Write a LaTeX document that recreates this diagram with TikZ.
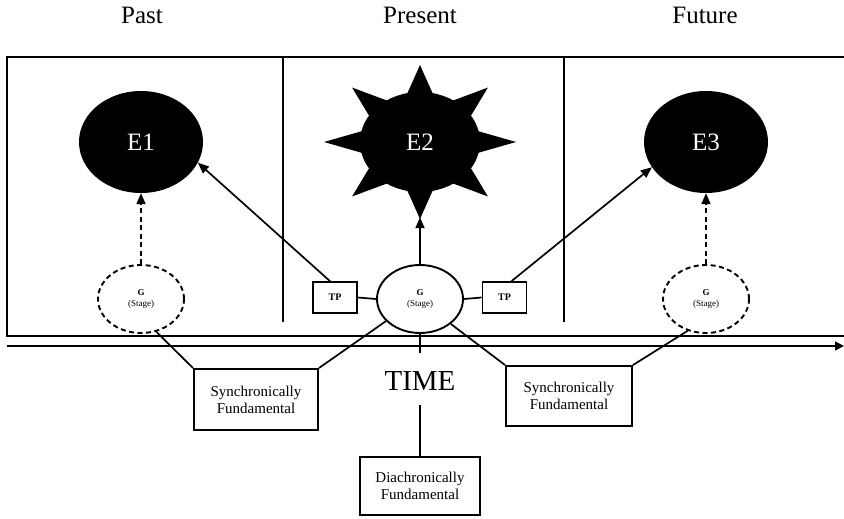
\documentclass[tikz,border=0pt]{standalone}
\usepackage{fontspec}
\setmainfont{Liberation Serif}
\usetikzlibrary{arrows.meta,shapes.geometric}
\begin{document}
\begin{tikzpicture}[x=1pt,y=-1pt,
  ln/.style={line width=1.7pt},
  frame/.style={line width=2pt},
  tip/.style={-{Triangle[length=11pt,width=9pt]}},
  dsh/.style={dash pattern=on 5pt off 3.5pt},
  event/.style={ellipse, fill=black, text=white, minimum width=124pt, minimum height=102pt, inner sep=0pt, font=\fontsize{25}{30}\selectfont},
  gstage/.style={ellipse, draw, line width=1.9pt, minimum width=86pt, minimum height=68pt, inner sep=0pt, align=center, font=\fontsize{9}{11}\selectfont},
  tpbox/.style={draw, line width=1.7pt, minimum width=44pt, minimum height=31pt, inner sep=0pt, font=\fontsize{10}{12}\selectfont\bfseries},
  fbox/.style={draw, line width=1.9pt, align=center, inner sep=0pt, font=\fontsize{15}{17}\selectfont},
  head/.style={anchor=base, inner sep=0pt, font=\fontsize{25}{30}\selectfont}]
\useasboundingbox (0,0) rectangle (844,519);
\fill[white] (0,0) rectangle (844,519);

% headers
\node[head] (past) at (142,24) {Past};
\node[head] (present) at (420,24) {Present};
\node[head] (future) at (705,24) {Future};

% frame and dividers
\draw[frame] (844,57) -- (7,57) -- (7,336) -- (844,336);
\draw[ln] (283,56) -- (283,322);
\draw[ln] (564,56) -- (564,322);

% time axis
\coordinate (t0) at (7,346);
\coordinate (t1) at (844,346);
\draw[ln,-{Triangle[length=9pt,width=9pt]}] (t0) -- (t1);

% events
\node[event] (E1) at (141,142) {E1};
\node[event] (E3) at (706,142) {E3};
\fill[shift={(420,142)}] (0,0) ellipse [x radius=60, y radius=50];
\foreach \a [evaluate=\a as \b using \a+14, evaluate=\a as \c using \a-14] in {0,45,...,315}
  \fill[shift={(420,142)}] (\a:96 and 77) -- (\b:58 and 47) -- (\c:58 and 47) -- cycle;
\node[minimum width=192pt, minimum height=150pt, inner sep=0pt, text=white, font=\fontsize{25}{30}\selectfont] (E2) at (420,142) {E2};

% stages
\node[gstage, dsh] (GL) at (141,299) {\textbf{G}\\(Stage)};
\node[gstage, dsh] (GR) at (706,299) {\textbf{G}\\(Stage)};
\node[gstage] (GC) at (420,299) {\textbf{G}\\(Stage)};
\node[tpbox] (TPL) at (335,297.5) {TP};
\node[tpbox] (TPR) at (504.5,297.5) {TP};

% boxes
\node[fbox, minimum width=124pt, minimum height=61pt] (SL) at (256,399.5) {Synchronically\\Fundamental};
\node[fbox, minimum width=126pt, minimum height=60pt] (SR) at (569,396) {Synchronically\\Fundamental};
\node[fbox, minimum width=120pt, minimum height=58pt] (DF) at (420,486) {Diachronically\\Fundamental};
\node[anchor=base, inner sep=0pt, font=\fontsize{29}{34}\selectfont] (TIME) at (420,390) {TIME};

% connectors
\draw[ln] (GC.west) -- (TPL.east);
\draw[ln] (GC.east) -- (TPR.west);
\draw[ln,tip] ([xshift=-5pt]TPL.north) -- (E1.-20);
\draw[ln,tip] ([xshift=7pt]TPR.north) -- (E3.205);
\draw[ln,tip] (GC.north) -- (E2.south);
\draw[ln,tip,dsh] (GL.north) -- (E1.south);
\draw[ln,tip,dsh] (GR.north) -- (E3.south);

\draw[ln] (GL.-65) -- (SL.north west);
\draw[ln] (GC.213) -- (SL.north east);
\draw[ln] (GC.-39) -- (SR.north west);
\draw[ln] (GR.240) -- (SR.north east);
\coordinate (tx) at (420,353);
\draw[ln] (GC.south) -- (tx);
\draw[ln] ([yshift=-15pt]TIME.base) -- (DF.north);
\end{tikzpicture}
\end{document}
